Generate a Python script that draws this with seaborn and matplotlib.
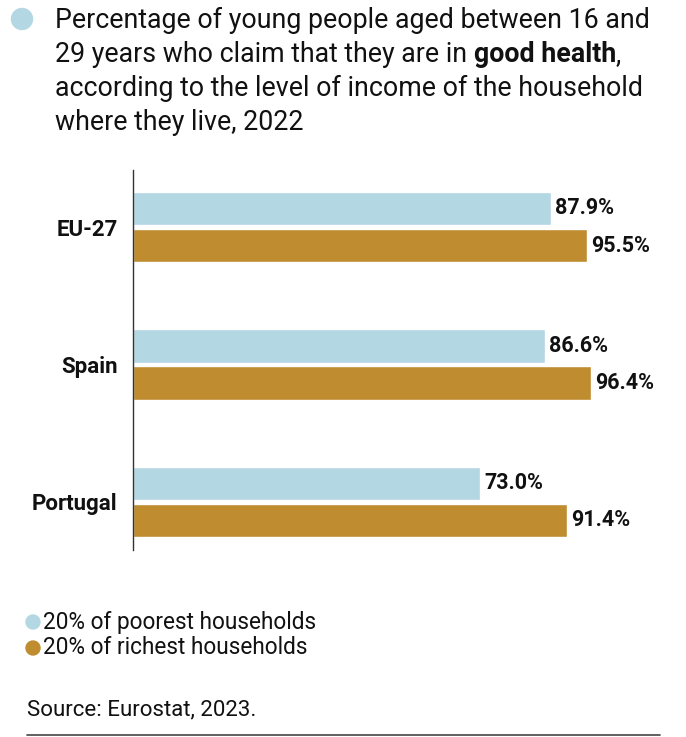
import matplotlib
matplotlib.use("Agg")
import matplotlib.pyplot as plt
import seaborn as sns
import pandas as pd

# data
countries = ["EU-27", "Spain", "Portugal"]
groups = ["20% of poorest households", "20% of richest households"]
poorest = [87.9, 86.6, 73.0]
richest = [95.5, 96.4, 91.4]

light_blue = "#b3d7e3"
gold = "#bf8c30"
font = "Roboto"

df = pd.DataFrame({
    "country": countries * 2,
    "group": [groups[0]] * 3 + [groups[1]] * 3,
    "value": poorest + richest,
})

sns.set_style("white")
plt.rcParams["font.family"] = [font, "DejaVu Sans"]

W, H = 686, 737
fig = plt.figure(figsize=(W / 100, H / 100), dpi=100)
ax = fig.add_axes([133 / W, 1 - 550 / H, (650 - 133) / W, (550 - 170) / H])

sns.barplot(data=df, x="value", y="country", hue="group", orient="h",
            palette=[light_blue, gold], saturation=1, width=0.54, gap=0.1,
            legend=False, ax=ax)

for cont in ax.containers:
    ax.bar_label(cont, labels=[f"{v:.1f}%" for v in cont.datavalues],
                 padding=3, fontsize=15.5, fontweight="bold", color="#111111")

ax.set_xlim(0, 108.8)
ax.set_ylim(2.35, -0.415)
ax.set_xlabel("")
ax.set_ylabel("")
ax.set_xticks([])
ax.tick_params(axis="y", length=0, pad=11)
for lab in ax.get_yticklabels():
    lab.set_fontweight("bold")
    lab.set_fontsize(16)
    lab.set_color("#111111")
for side in ["top", "right", "bottom"]:
    ax.spines[side].set_visible(False)
ax.spines["left"].set_color("#333333")
ax.spines["left"].set_linewidth(1.0)

# title with bullet
fig.patches.append(matplotlib.patches.Ellipse((22 / W, 1 - 19 / H), 21 / W, 21 / H,
                                              transform=fig.transFigure,
                                              color=light_blue))
tsize = 19.3
ty = [1 - 28 / H, 1 - 62 / H, 1 - 96 / H, 1 - 130 / H]
fig.text(55 / W, ty[0], "Percentage of young people aged between 16 and",
         fontsize=tsize, va="baseline", color="#111111")
t1 = fig.text(55 / W, ty[1], "29 years who claim that they are in ",
              fontsize=tsize, va="baseline", color="#111111")
t2 = fig.text(0, 0, "good health", fontsize=tsize, fontweight="bold", color="#111111")
t3 = fig.text(0, 0, ",", fontsize=tsize, color="#111111")
fig.text(55 / W, ty[2], "according to the level of income of the household",
         fontsize=tsize, va="baseline", color="#111111")
fig.text(55 / W, ty[3], "where they live, 2022",
         fontsize=tsize, va="baseline", color="#111111")

fig.canvas.draw()
r = fig.canvas.get_renderer()
bb = t1.get_window_extent(r)
t2.set_position((bb.x1 / W, ty[1]))
t2.set_va("baseline")
fig.canvas.draw()
bb2 = t2.get_window_extent(r)
t3.set_position((bb2.x1 / W, ty[1]))
t3.set_va("baseline")

# legend
for i, (g, c) in enumerate(zip(groups, [light_blue, gold])):
    yy = 622 + 26 * i
    fig.patches.append(matplotlib.patches.Ellipse((33 / W, 1 - yy / H), 14 / W, 14 / H,
                                                  transform=fig.transFigure, color=c))
    fig.text(43 / W, 1 - yy / H, g, fontsize=16.3, va="center", color="#111111")

fig.text(27 / W, 1 - 710 / H, "Source: Eurostat, 2023.", fontsize=16,
         va="center", color="#111111")
fig.add_artist(matplotlib.lines.Line2D([27 / W, 660 / W], [1 - 735 / H, 1 - 735 / H],
                                       color="#444444", linewidth=1.2))

fig.savefig("out.png", dpi=100)
